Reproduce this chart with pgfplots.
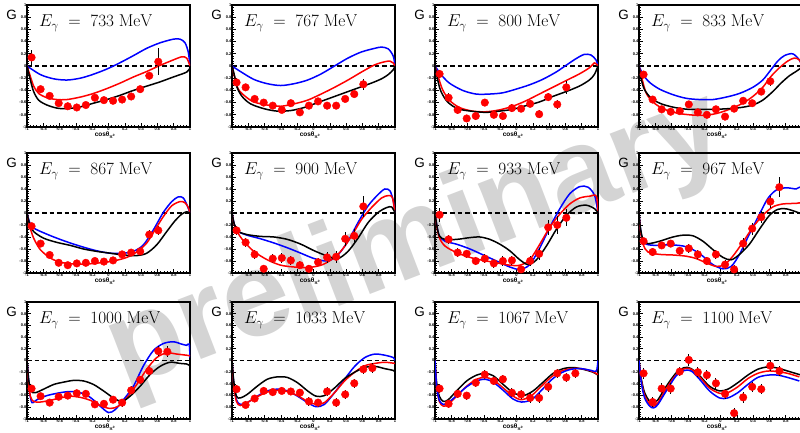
\documentclass[border=0pt]{standalone}
\usepackage[no-math]{fontspec}
\setmainfont{Liberation Sans}
\usepackage{pgfplots}
\pgfplotsset{compat=1.18}
\definecolor{wm}{RGB}{212,212,212}
\definecolor{rred}{RGB}{255,0,0}
\definecolor{rblue}{RGB}{0,0,255}
\pgfplotsset{
  panel/.style={
    scale only axis, width=163bp, anchor=south west,
    xmin=-1,xmax=1,ymin=-1,ymax=1, clip mode=individual,
    axis line style={line width=1.1bp},
    xtick={-1,-0.8,-0.6,-0.4,-0.2,0,0.2,0.4,0.6,0.8,1},
    ytick={-1,-0.8,-0.6,-0.4,-0.2,0,0.2,0.4,0.6,0.8,1},
    xticklabels={-1,-0.8,-0.6,-0.4,-0.2,0,0.2,0.4,0.6,0.8,1},
    yticklabels={-1,-0.8,-0.6,-0.4,-0.2,0,0.2,0.4,0.6,0.8,1},
    minor tick num=4,
    xtick pos=left, ytick pos=left, tick align=inside,
    major tick length=3.5bp, minor tick length=2bp,
    every tick/.style={black, line width=0.6bp},
    ticklabel style={font=\fontsize{4}{5}\selectfont\bfseries, inner sep=0.5bp},
    xlabel={cosθ\textsubscript{π\textsuperscript{0}}},
    xlabel style={font=\fontsize{6.5}{7}\selectfont\bfseries, inner sep=0, at={(rel axis cs:0.48,0)}, anchor=north, yshift=-4.6bp},
  },
  curve/.style={line width=1.5bp, smooth, tension=0.5, no marks},
  zero/.style={black, line width=1.1bp, dash pattern=on 4.5bp off 3bp, no marks},
  pts/.style={only marks, mark=*, mark size=3.8bp, mark options={draw=rred, fill=rred},
    error bars/.cd, y dir=both, y explicit, error bar style={black, line width=1.1bp}, error mark=none},
}
\tikzset{
  ttl/.style={anchor=base west, xshift=12bp, yshift=-21.5bp, font=\fontsize{17.5}{17.5}\selectfont, inner sep=0},
  glab/.style={anchor=north east, xshift=-10bp, yshift=-4.5bp, font=\fontsize{13.5}{14}\selectfont, inner sep=0},
}
\begin{document}
\begin{tikzpicture}
\useasboundingbox (0,0) rectangle (800bp,433bp);
\node[rotate=21, font=\fontsize{121}{121}\selectfont\bfseries, text=wm] at (417bp,190bp) {preliminary};

% ---------- 733
\begin{axis}[panel, height=122bp, at={(27bp,306bp)}]
\addplot[zero] coordinates {(-1,0) (1,0)};
\addplot[curve, rblue] coordinates {(-1,0) (-0.837,-0.14) (-0.673,-0.21) (-0.51,-0.23) (-0.347,-0.20) (-0.196,-0.14) (-0.02,-0.05) (0.143,0.055) (0.306,0.17) (0.469,0.29) (0.633,0.38) (0.796,0.44) (0.878,0.44) (0.939,0.38) (0.98,0.22) (1,0)};
\addplot[curve, rred] coordinates {(-1,0) (-0.959,-0.17) (-0.918,-0.33) (-0.857,-0.45) (-0.755,-0.52) (-0.633,-0.55) (-0.51,-0.55) (-0.347,-0.51) (-0.184,-0.45) (-0.02,-0.37) (0.143,-0.28) (0.306,-0.18) (0.469,-0.09) (0.633,0.01) (0.796,0.10) (0.898,0.15) (0.959,0.13) (1,0)};
\addplot[curve, black] coordinates {(-1,0) (-0.959,-0.23) (-0.918,-0.42) (-0.857,-0.56) (-0.755,-0.64) (-0.633,-0.69) (-0.51,-0.70) (-0.347,-0.67) (-0.184,-0.61) (-0.02,-0.55) (0.143,-0.48) (0.306,-0.40) (0.469,-0.33) (0.633,-0.26) (0.796,-0.18) (0.959,-0.10) (1,-0.03)};
\addplot[pts] table[x=x,y=y,y error=e] {
x y e
-0.944 0.14 0.13
-0.833 -0.38 0.05
-0.722 -0.49 0.05
-0.611 -0.61 0.04
-0.5 -0.66 0.04
-0.389 -0.68 0.04
-0.278 -0.64 0.04
-0.167 -0.52 0.04
-0.056 -0.56 0.04
0.056 -0.57 0.04
0.167 -0.55 0.04
0.278 -0.50 0.04
0.389 -0.38 0.04
0.5 -0.16 0.04
0.611 0.07 0.22
};
\node[ttl] at (rel axis cs:0,1) {$E_{\gamma}\;=\;733\;\mathrm{MeV}$};
\node[glab] at (rel axis cs:0,1) {G};
\end{axis}

% ---------- 767
\begin{axis}[panel, height=122bp, at={(232bp,306bp)}]
\addplot[zero] coordinates {(-1,0) (1,0)};
\addplot[curve, rblue] coordinates {(-1,0) (-0.897,-0.09) (-0.732,-0.22) (-0.567,-0.29) (-0.402,-0.32) (-0.237,-0.29) (-0.072,-0.23) (0.093,-0.13) (0.258,0) (0.423,0.13) (0.588,0.23) (0.753,0.29) (0.835,0.31) (0.918,0.28) (0.979,0.16) (1,0)};
\addplot[curve, rred] coordinates {(-1,0) (-0.959,-0.23) (-0.918,-0.39) (-0.835,-0.50) (-0.732,-0.59) (-0.567,-0.64) (-0.402,-0.66) (-0.237,-0.62) (-0.072,-0.56) (0.093,-0.46) (0.258,-0.35) (0.423,-0.23) (0.588,-0.10) (0.753,0.02) (0.876,0.07) (0.938,0.08) (0.979,0.05) (1,0)};
\addplot[curve, black] coordinates {(-1,0) (-0.967,-0.17) (-0.938,-0.35) (-0.876,-0.50) (-0.773,-0.62) (-0.608,-0.70) (-0.443,-0.74) (-0.278,-0.73) (-0.113,-0.68) (0.052,-0.60) (0.216,-0.52) (0.381,-0.44) (0.546,-0.36) (0.711,-0.28) (0.835,-0.21) (0.918,-0.14) (0.979,-0.06) (1,0)};
\addplot[pts] table[x=x,y=y,y error=e] {
x y e
-0.944 -0.27 0.07
-0.833 -0.35 0.06
-0.722 -0.54 0.05
-0.611 -0.60 0.05
-0.5 -0.65 0.05
-0.389 -0.72 0.05
-0.278 -0.61 0.05
-0.167 -0.76 0.04
-0.056 -0.65 0.05
0.056 -0.58 0.05
0.167 -0.65 0.05
0.278 -0.65 0.05
0.389 -0.54 0.05
0.5 -0.46 0.05
0.611 -0.30 0.09
};
\node[ttl] at (rel axis cs:0,1) {$E_{\gamma}\;=\;767\;\mathrm{MeV}$};
\node[glab] at (rel axis cs:0,1) {G};
\end{axis}

% ---------- 800
\begin{axis}[panel, height=122bp, at={(435bp,306bp)}]
\addplot[zero] coordinates {(-1,0) (1,0)};
\addplot[curve, rblue] coordinates {(-1,0) (-0.926,-0.14) (-0.824,-0.28) (-0.661,-0.40) (-0.497,-0.46) (-0.334,-0.46) (-0.170,-0.44) (-0.007,-0.38) (0.157,-0.31) (0.320,-0.22) (0.485,-0.10) (0.607,0.01) (0.730,0.12) (0.832,0.19) (0.914,0.18) (0.975,0.10) (1,0)};
\addplot[curve, rred] coordinates {(-1,0) (-0.955,-0.20) (-0.906,-0.39) (-0.824,-0.56) (-0.701,-0.68) (-0.538,-0.74) (-0.374,-0.75) (-0.211,-0.72) (-0.047,-0.66) (0.117,-0.57) (0.280,-0.46) (0.444,-0.35) (0.607,-0.24) (0.771,-0.13) (0.894,-0.03) (0.955,0.05) (0.988,0.02) (1,0)};
\addplot[curve, black] coordinates {(-1,0) (-0.967,-0.23) (-0.926,-0.42) (-0.845,-0.59) (-0.722,-0.70) (-0.558,-0.74) (-0.374,-0.76) (-0.211,-0.74) (-0.047,-0.71) (0.117,-0.65) (0.280,-0.59) (0.444,-0.50) (0.607,-0.42) (0.771,-0.33) (0.894,-0.23) (0.955,-0.14) (1,0)};
\addplot[pts] table[x=x,y=y,y error=e] {
x y e
-0.944 -0.13 0.06
-0.833 -0.52 0.08
-0.722 -0.72 0.06
-0.611 -0.86 0.06
-0.5 -0.82 0.06
-0.389 -0.60 0.06
-0.278 -0.80 0.06
-0.167 -0.82 0.06
-0.056 -0.69 0.06
0.056 -0.70 0.06
0.167 -0.62 0.06
0.278 -0.79 0.07
0.389 -0.51 0.07
0.5 -0.63 0.08
0.611 -0.35 0.11
};
\node[ttl] at (rel axis cs:0,1) {$E_{\gamma}\;=\;800\;\mathrm{MeV}$};
\node[glab] at (rel axis cs:0,1) {G};
\end{axis}

% ---------- 833
\begin{axis}[panel, height=122bp, at={(639bp,306bp)}]
\addplot[zero] coordinates {(-1,0) (1,0)};
\addplot[curve, rblue] coordinates {(-1,0) (-0.951,-0.14) (-0.869,-0.27) (-0.747,-0.38) (-0.584,-0.47) (-0.420,-0.53) (-0.257,-0.55) (-0.094,-0.55) (0.069,-0.51) (0.233,-0.45) (0.396,-0.35) (0.518,-0.23) (0.620,-0.06) (0.702,0.08) (0.784,0.17) (0.886,0.20) (0.967,0.10) (1,0)};
\addplot[curve, rred] coordinates {(-1,0) (-0.959,-0.23) (-0.910,-0.45) (-0.829,-0.59) (-0.706,-0.70) (-0.543,-0.77) (-0.380,-0.80) (-0.216,-0.81) (-0.053,-0.78) (0.110,-0.71) (0.273,-0.61) (0.396,-0.50) (0.518,-0.35) (0.620,-0.17) (0.722,-0.03) (0.824,0.08) (0.906,0.13) (0.967,0.10) (1,0)};
\addplot[curve, black] coordinates {(-1,0) (-0.971,-0.23) (-0.931,-0.39) (-0.849,-0.53) (-0.727,-0.62) (-0.563,-0.68) (-0.400,-0.71) (-0.237,-0.71) (-0.073,-0.71) (0.090,-0.70) (0.253,-0.68) (0.396,-0.64) (0.518,-0.56) (0.641,-0.42) (0.743,-0.28) (0.845,-0.16) (0.927,-0.09) (0.988,-0.03) (1,0)};
\addplot[pts] table[x=x,y=y,y error=e] {
x y e
-0.944 -0.14 0.05
-0.833 -0.55 0.05
-0.722 -0.71 0.05
-0.611 -0.75 0.05
-0.5 -0.74 0.05
-0.389 -0.63 0.05
-0.278 -0.76 0.05
-0.167 -0.80 0.05
-0.056 -0.71 0.05
0.056 -0.83 0.05
0.167 -0.70 0.05
0.278 -0.57 0.05
0.389 -0.61 0.05
0.5 -0.42 0.05
0.611 -0.25 0.07
};
\node[ttl] at (rel axis cs:0,1) {$E_{\gamma}\;=\;833\;\mathrm{MeV}$};
\node[glab] at (rel axis cs:0,1) {G};
\end{axis}

% ---------- 867
\begin{axis}[panel, height=120bp, at={(27bp,160bp)}]
\addplot[zero] coordinates {(-1,0) (1,0)};
\addplot[curve, rblue] coordinates {(-1,0) (-0.967,-0.16) (-0.918,-0.25) (-0.796,-0.33) (-0.633,-0.42) (-0.469,-0.50) (-0.306,-0.57) (-0.143,-0.63) (0.020,-0.67) (0.184,-0.67) (0.306,-0.64) (0.429,-0.53) (0.551,-0.28) (0.673,0.01) (0.776,0.19) (0.857,0.27) (0.918,0.25) (0.967,0.12) (1,0)};
\addplot[curve, rred] coordinates {(-1,0) (-0.967,-0.22) (-0.918,-0.42) (-0.837,-0.61) (-0.714,-0.75) (-0.592,-0.82) (-0.429,-0.85) (-0.265,-0.85) (-0.102,-0.83) (0.061,-0.80) (0.224,-0.74) (0.347,-0.65) (0.469,-0.50) (0.571,-0.28) (0.673,-0.06) (0.776,0.12) (0.878,0.19) (0.939,0.17) (0.980,0.09) (1,0)};
\addplot[curve, black] coordinates {(-1,0) (-0.967,-0.19) (-0.918,-0.31) (-0.796,-0.42) (-0.633,-0.49) (-0.469,-0.54) (-0.306,-0.60) (-0.143,-0.64) (0.020,-0.67) (0.184,-0.70) (0.347,-0.71) (0.469,-0.67) (0.592,-0.53) (0.714,-0.31) (0.816,-0.13) (0.898,-0.02) (0.959,0.02) (1,0)};
\addplot[pts] table[x=x,y=y,y error=e] {
x y e
-0.944 -0.22 0.05
-0.833 -0.51 0.05
-0.722 -0.70 0.05
-0.611 -0.83 0.05
-0.5 -0.87 0.05
-0.389 -0.84 0.05
-0.278 -0.83 0.05
-0.167 -0.80 0.05
-0.056 -0.81 0.05
0.056 -0.79 0.05
0.167 -0.69 0.05
0.278 -0.66 0.05
0.389 -0.64 0.06
0.5 -0.36 0.08
0.611 -0.29 0.07
};
\node[ttl] at (rel axis cs:0,1) {$E_{\gamma}\;=\;867\;\mathrm{MeV}$};
\node[glab] at (rel axis cs:0,1) {G};
\end{axis}

% ---------- 900
\begin{axis}[panel, height=120bp, at={(232bp,160bp)}]
\addplot[zero] coordinates {(-1,0) (1,0)};
\addplot[curve, rblue] coordinates {(-1,0) (-0.971,-0.19) (-0.918,-0.31) (-0.814,-0.37) (-0.649,-0.43) (-0.485,-0.50) (-0.320,-0.58) (-0.155,-0.67) (0.010,-0.76) (0.175,-0.80) (0.299,-0.70) (0.423,-0.47) (0.546,-0.16) (0.670,0.12) (0.794,0.31) (0.876,0.40) (0.938,0.37) (0.979,0.20) (1,0)};
\addplot[curve, rred] coordinates {(-1,0) (-0.979,-0.16) (-0.938,-0.31) (-0.856,-0.47) (-0.732,-0.64) (-0.567,-0.78) (-0.402,-0.87) (-0.237,-0.90) (-0.072,-0.91) (0.093,-0.87) (0.216,-0.78) (0.340,-0.63) (0.464,-0.39) (0.588,-0.11) (0.711,0.09) (0.835,0.25) (0.918,0.29) (0.967,0.26) (1,0)};
\addplot[curve, black] coordinates {(-1,0) (-0.971,-0.19) (-0.918,-0.31) (-0.814,-0.36) (-0.649,-0.39) (-0.485,-0.40) (-0.320,-0.44) (-0.155,-0.52) (0.010,-0.63) (0.175,-0.72) (0.299,-0.76) (0.423,-0.64) (0.546,-0.42) (0.670,-0.16) (0.794,0.01) (0.897,0.09) (0.959,0.10) (1,0)};
\addplot[pts] table[x=x,y=y,y error=e] {
x y e
-0.944 -0.29 0.07
-0.833 -0.49 0.07
-0.722 -0.69 0.07
-0.611 -0.93 0.06
-0.5 -0.76 0.08
-0.389 -0.75 0.08
-0.278 -0.79 0.08
-0.167 -0.87 0.07
-0.056 -0.93 0.06
0.056 -0.82 0.07
0.167 -0.74 0.09
0.278 -0.73 0.10
0.389 -0.43 0.12
0.5 -0.38 0.12
0.611 0.11 0.17
};
\node[ttl] at (rel axis cs:0,1) {$E_{\gamma}\;=\;900\;\mathrm{MeV}$};
\node[glab] at (rel axis cs:0,1) {G};
\end{axis}

% ---------- 933
\begin{axis}[panel, height=120bp, at={(435bp,160bp)}]
\addplot[zero] coordinates {(-1,0) (1,0)};
\addplot[curve, rblue] coordinates {(-1,0) (-0.980,-0.19) (-0.947,-0.38) (-0.878,-0.47) (-0.735,-0.52) (-0.571,-0.60) (-0.408,-0.70) (-0.245,-0.80) (-0.082,-0.90) (0.041,-0.94) (0.163,-0.86) (0.286,-0.58) (0.408,-0.24) (0.531,0.07) (0.653,0.32) (0.776,0.44) (0.878,0.43) (0.959,0.29) (1,0)};
\addplot[curve, rred] coordinates {(-1,0) (-0.980,-0.21) (-0.947,-0.41) (-0.878,-0.55) (-0.735,-0.66) (-0.571,-0.74) (-0.408,-0.79) (-0.245,-0.83) (-0.082,-0.87) (0.041,-0.87) (0.163,-0.78) (0.286,-0.52) (0.408,-0.24) (0.531,-0.02) (0.653,0.15) (0.776,0.25) (0.898,0.28) (0.980,0.28) (1,0)};
\addplot[curve, black] coordinates {(-1,0) (-0.980,-0.19) (-0.947,-0.38) (-0.878,-0.44) (-0.735,-0.44) (-0.571,-0.41) (-0.449,-0.40) (-0.327,-0.44) (-0.204,-0.52) (-0.082,-0.63) (0.041,-0.78) (0.143,-0.86) (0.245,-0.78) (0.367,-0.55) (0.490,-0.27) (0.612,-0.04) (0.735,0.10) (0.857,0.13) (0.959,0.07) (1,0)};
\addplot[pts] table[x=x,y=y,y error=e] {
x y e
-0.944 -0.03 0.12
-0.833 -0.44 0.07
-0.722 -0.66 0.07
-0.611 -0.68 0.07
-0.5 -0.80 0.07
-0.389 -0.76 0.08
-0.278 -0.84 0.08
-0.167 -0.80 0.08
-0.056 -0.79 0.08
0.056 -0.94 0.06
0.167 -0.80 0.08
0.278 -0.68 0.10
0.389 -0.24 0.13
0.5 -0.20 0.15
0.611 -0.08 0.14
};
\node[ttl] at (rel axis cs:0,1) {$E_{\gamma}\;=\;933\;\mathrm{MeV}$};
\node[glab] at (rel axis cs:0,1) {G};
\end{axis}

% ---------- 967
\begin{axis}[panel, height=120bp, at={(639bp,160bp)}]
\addplot[zero] coordinates {(-1,0) (1,0)};
\addplot[curve, rblue] coordinates {(-1,0) (-0.984,-0.24) (-0.959,-0.44) (-0.910,-0.52) (-0.788,-0.54) (-0.624,-0.53) (-0.461,-0.55) (-0.339,-0.61) (-0.216,-0.72) (-0.094,-0.86) (0.029,-0.93) (0.131,-0.89) (0.233,-0.69) (0.355,-0.35) (0.478,-0.02) (0.580,0.24) (0.682,0.38) (0.804,0.42) (0.927,0.40) (0.99,0.41) (1,0)};
\addplot[curve, rred] coordinates {(-1,0) (-0.984,-0.27) (-0.951,-0.52) (-0.890,-0.65) (-0.747,-0.69) (-0.584,-0.70) (-0.420,-0.72) (-0.298,-0.76) (-0.176,-0.83) (-0.053,-0.89) (0.049,-0.86) (0.151,-0.72) (0.273,-0.49) (0.396,-0.24) (0.518,-0.04) (0.641,0.10) (0.763,0.15) (0.927,0.16) (0.99,0.16) (1,0)};
\addplot[curve, black] coordinates {(-1,0) (-0.984,-0.24) (-0.951,-0.44) (-0.890,-0.51) (-0.747,-0.47) (-0.584,-0.40) (-0.461,-0.37) (-0.339,-0.38) (-0.216,-0.47) (-0.094,-0.61) (0.029,-0.74) (0.131,-0.78) (0.233,-0.69) (0.355,-0.52) (0.478,-0.27) (0.600,-0.04) (0.702,0.06) (0.804,0.07) (0.927,0.02) (1,-0.02)};
\addplot[pts] table[x=x,y=y,y error=e] {
x y e
-0.944 -0.47 0.06
-0.833 -0.65 0.06
-0.722 -0.54 0.06
-0.611 -0.51 0.06
-0.5 -0.63 0.07
-0.389 -0.59 0.07
-0.278 -0.69 0.07
-0.167 -0.80 0.07
-0.056 -0.69 0.07
0.056 -0.86 0.08
0.167 -0.94 0.07
0.278 -0.51 0.10
0.389 -0.26 0.10
0.5 -0.07 0.10
0.611 0.19 0.10
0.722 0.43 0.17
};
\node[ttl] at (rel axis cs:0,1) {$E_{\gamma}\;=\;967\;\mathrm{MeV}$};
\node[glab] at (rel axis cs:0,1) {G};
\end{axis}

% ---------- 1000
\begin{axis}[panel, height=117bp, at={(27bp,14bp)}]
\addplot[zero] coordinates {(-1,0) (1,0)};
\addplot[curve, rblue] coordinates {(-1,0) (-0.984,-0.26) (-0.967,-0.55) (-0.939,-0.72) (-0.878,-0.67) (-0.755,-0.60) (-0.592,-0.55) (-0.469,-0.53) (-0.347,-0.55) (-0.224,-0.63) (-0.102,-0.78) (0.000,-0.89) (0.082,-0.84) (0.184,-0.67) (0.306,-0.44) (0.429,-0.09) (0.551,0.17) (0.673,0.29) (0.796,0.32) (0.898,0.28) (0.959,0.26) (0.99,0.28) (1,0.05)};
\addplot[curve, rred] coordinates {(-1,0) (-0.984,-0.32) (-0.959,-0.61) (-0.918,-0.70) (-0.837,-0.71) (-0.714,-0.68) (-0.592,-0.64) (-0.469,-0.61) (-0.347,-0.63) (-0.224,-0.68) (-0.102,-0.77) (0.020,-0.82) (0.122,-0.78) (0.224,-0.64) (0.347,-0.41) (0.469,-0.15) (0.592,0.05) (0.714,0.13) (0.837,0.11) (0.959,0.09) (1,0.08)};
\addplot[curve, black] coordinates {(-1,0) (-0.980,-0.32) (-0.951,-0.52) (-0.898,-0.55) (-0.796,-0.49) (-0.673,-0.41) (-0.551,-0.37) (-0.429,-0.34) (-0.306,-0.35) (-0.184,-0.41) (-0.061,-0.52) (0.061,-0.64) (0.163,-0.70) (0.265,-0.61) (0.388,-0.44) (0.510,-0.24) (0.633,-0.10) (0.755,-0.03) (0.878,-0.05) (0.959,-0.06) (1,-0.09)};
\addplot[pts] table[x=x,y=y,y error=e] {
x y e
-0.944 -0.48 0.06
-0.833 -0.61 0.05
-0.722 -0.72 0.05
-0.611 -0.62 0.05
-0.5 -0.60 0.05
-0.389 -0.56 0.06
-0.278 -0.57 0.06
-0.167 -0.75 0.06
-0.056 -0.74 0.06
0.056 -0.67 0.06
0.167 -0.72 0.07
0.278 -0.51 0.07
0.389 -0.33 0.07
0.5 -0.18 0.07
0.611 0.16 0.08
0.722 0.15 0.09
};
\node[ttl] at (rel axis cs:0,1) {$E_{\gamma}\;=\;1000\;\mathrm{MeV}$};
\node[glab] at (rel axis cs:0,1) {G};
\end{axis}

% ---------- 1033
\begin{axis}[panel, height=117bp, at={(232bp,14bp)}]
\addplot[zero] coordinates {(-1,0) (1,0)};
\addplot[curve, rblue] coordinates {(-1,0) (-0.979,-0.38) (-0.946,-0.67) (-0.897,-0.75) (-0.814,-0.72) (-0.691,-0.61) (-0.567,-0.52) (-0.443,-0.49) (-0.320,-0.52) (-0.196,-0.61) (-0.072,-0.72) (0.031,-0.79) (0.134,-0.75) (0.258,-0.55) (0.381,-0.32) (0.505,-0.10) (0.629,0.05) (0.753,0.11) (0.876,0.09) (0.979,0.05) (1,0)};
\addplot[curve, rred] coordinates {(-1,0) (-0.979,-0.41) (-0.946,-0.70) (-0.897,-0.77) (-0.814,-0.72) (-0.691,-0.62) (-0.567,-0.54) (-0.443,-0.51) (-0.320,-0.53) (-0.196,-0.60) (-0.072,-0.70) (0.031,-0.75) (0.134,-0.72) (0.258,-0.55) (0.381,-0.35) (0.505,-0.20) (0.629,-0.09) (0.753,-0.05) (0.876,-0.03) (1.0,-0.05)};
\addplot[curve, black] coordinates {(-1,0) (-0.979,-0.35) (-0.946,-0.61) (-0.897,-0.64) (-0.814,-0.58) (-0.691,-0.44) (-0.567,-0.32) (-0.443,-0.28) (-0.320,-0.29) (-0.196,-0.38) (-0.072,-0.52) (0.031,-0.61) (0.134,-0.60) (0.258,-0.47) (0.381,-0.31) (0.505,-0.20) (0.629,-0.12) (0.753,-0.10) (0.876,-0.14) (0.979,-0.17) (1.0,-0.20)};
\addplot[pts] table[x=x,y=y,y error=e] {
x y e
-0.944 -0.49 0.07
-0.833 -0.76 0.06
-0.722 -0.65 0.06
-0.611 -0.52 0.06
-0.5 -0.54 0.06
-0.389 -0.52 0.06
-0.278 -0.53 0.06
-0.167 -0.55 0.07
-0.056 -0.70 0.07
0.056 -0.72 0.07
0.167 -0.53 0.08
0.278 -0.72 0.08
0.389 -0.58 0.08
0.5 -0.39 0.08
0.611 -0.15 0.08
0.722 -0.13 0.08
};
\node[ttl] at (rel axis cs:0,1) {$E_{\gamma}\;=\;1033\;\mathrm{MeV}$};
\node[glab] at (rel axis cs:0,1) {G};
\end{axis}

% ---------- 1067
\begin{axis}[panel, height=117bp, at={(435bp,14bp)}]
\addplot[zero] coordinates {(-1,0) (1,0)};
\addplot[curve, black] coordinates {(-1,0) (-0.980,-0.38) (-0.947,-0.61) (-0.898,-0.70) (-0.837,-0.67) (-0.735,-0.52) (-0.612,-0.35) (-0.490,-0.25) (-0.388,-0.22) (-0.286,-0.26) (-0.163,-0.41) (-0.041,-0.55) (0.082,-0.60) (0.204,-0.52) (0.327,-0.37) (0.449,-0.22) (0.571,-0.14) (0.694,-0.12) (0.816,-0.15) (0.939,-0.20) (1.0,-0.25)};
\addplot[curve, rred] coordinates {(-1,0) (-0.980,-0.44) (-0.947,-0.70) (-0.898,-0.78) (-0.837,-0.75) (-0.735,-0.61) (-0.612,-0.44) (-0.490,-0.32) (-0.388,-0.29) (-0.286,-0.33) (-0.163,-0.47) (-0.041,-0.61) (0.061,-0.67) (0.184,-0.60) (0.306,-0.44) (0.429,-0.28) (0.551,-0.18) (0.673,-0.14) (0.796,-0.14) (0.918,-0.18) (1.0,-0.24)};
\addplot[curve, rblue] coordinates {(-1,0) (-0.980,-0.44) (-0.947,-0.68) (-0.898,-0.75) (-0.837,-0.72) (-0.735,-0.60) (-0.612,-0.45) (-0.490,-0.35) (-0.388,-0.32) (-0.286,-0.37) (-0.163,-0.51) (-0.041,-0.66) (0.061,-0.71) (0.184,-0.67) (0.306,-0.51) (0.429,-0.33) (0.551,-0.21) (0.673,-0.15) (0.796,-0.14) (0.918,-0.17) (0.980,-0.18) (1.0,0.0)};
\addplot[pts] table[x=x,y=y,y error=e] {
x y e
-0.944 -0.48 0.07
-0.833 -0.74 0.07
-0.722 -0.57 0.07
-0.611 -0.60 0.07
-0.5 -0.38 0.07
-0.389 -0.24 0.07
-0.278 -0.35 0.07
-0.167 -0.32 0.08
-0.056 -0.55 0.08
0.056 -0.58 0.08
0.167 -0.64 0.08
0.278 -0.64 0.08
0.389 -0.45 0.08
0.5 -0.22 0.08
0.611 -0.29 0.08
0.722 -0.22 0.08
};
\node[ttl] at (rel axis cs:0,1) {$E_{\gamma}\;=\;1067\;\mathrm{MeV}$};
\node[glab] at (rel axis cs:0,1) {G};
\end{axis}

% ---------- 1100
\begin{axis}[panel, height=117bp, at={(639bp,14bp)}]
\addplot[zero] coordinates {(-1,0) (1,0)};
\addplot[curve, black] coordinates {(-1,0) (-0.971,-0.32) (-0.931,-0.55) (-0.869,-0.70) (-0.820,-0.72) (-0.767,-0.67) (-0.665,-0.44) (-0.543,-0.21) (-0.441,-0.12) (-0.359,-0.14) (-0.257,-0.26) (-0.135,-0.44) (-0.012,-0.52) (0.090,-0.49) (0.212,-0.38) (0.335,-0.25) (0.457,-0.15) (0.580,-0.11) (0.702,-0.13) (0.824,-0.18) (0.967,-0.24) (1,-0.25)};
\addplot[curve, rred] coordinates {(-1,0) (-0.971,-0.35) (-0.931,-0.60) (-0.869,-0.75) (-0.820,-0.78) (-0.767,-0.72) (-0.665,-0.48) (-0.543,-0.24) (-0.441,-0.14) (-0.359,-0.15) (-0.257,-0.28) (-0.135,-0.47) (-0.012,-0.56) (0.090,-0.55) (0.212,-0.45) (0.335,-0.31) (0.457,-0.22) (0.580,-0.18) (0.702,-0.19) (0.824,-0.22) (0.967,-0.28)};
\addplot[curve, rblue] coordinates {(-1,0) (-0.971,-0.38) (-0.931,-0.64) (-0.869,-0.78) (-0.820,-0.81) (-0.767,-0.75) (-0.665,-0.52) (-0.543,-0.26) (-0.441,-0.17) (-0.359,-0.18) (-0.257,-0.32) (-0.135,-0.52) (-0.012,-0.64) (0.090,-0.64) (0.212,-0.55) (0.335,-0.41) (0.457,-0.29) (0.580,-0.25) (0.702,-0.25) (0.824,-0.29) (0.967,-0.35)};
\addplot[pts] table[x=x,y=y,y error=e] {
x y e
-0.944 -0.22 0.10
-0.833 -0.71 0.08
-0.722 -0.48 0.09
-0.611 -0.48 0.09
-0.5 -0.19 0.08
-0.389 0.01 0.10
-0.278 -0.20 0.09
-0.167 -0.25 0.09
-0.056 -0.39 0.09
0.056 -0.57 0.09
0.167 -0.90 0.09
0.278 -0.63 0.10
0.389 -0.45 0.09
0.5 -0.49 0.09
0.611 -0.09 0.09
0.722 -0.18 0.09
};
\node[ttl] at (rel axis cs:0,1) {$E_{\gamma}\;=\;1100\;\mathrm{MeV}$};
\node[glab] at (rel axis cs:0,1) {G};
\end{axis}
\end{tikzpicture}
\end{document}
